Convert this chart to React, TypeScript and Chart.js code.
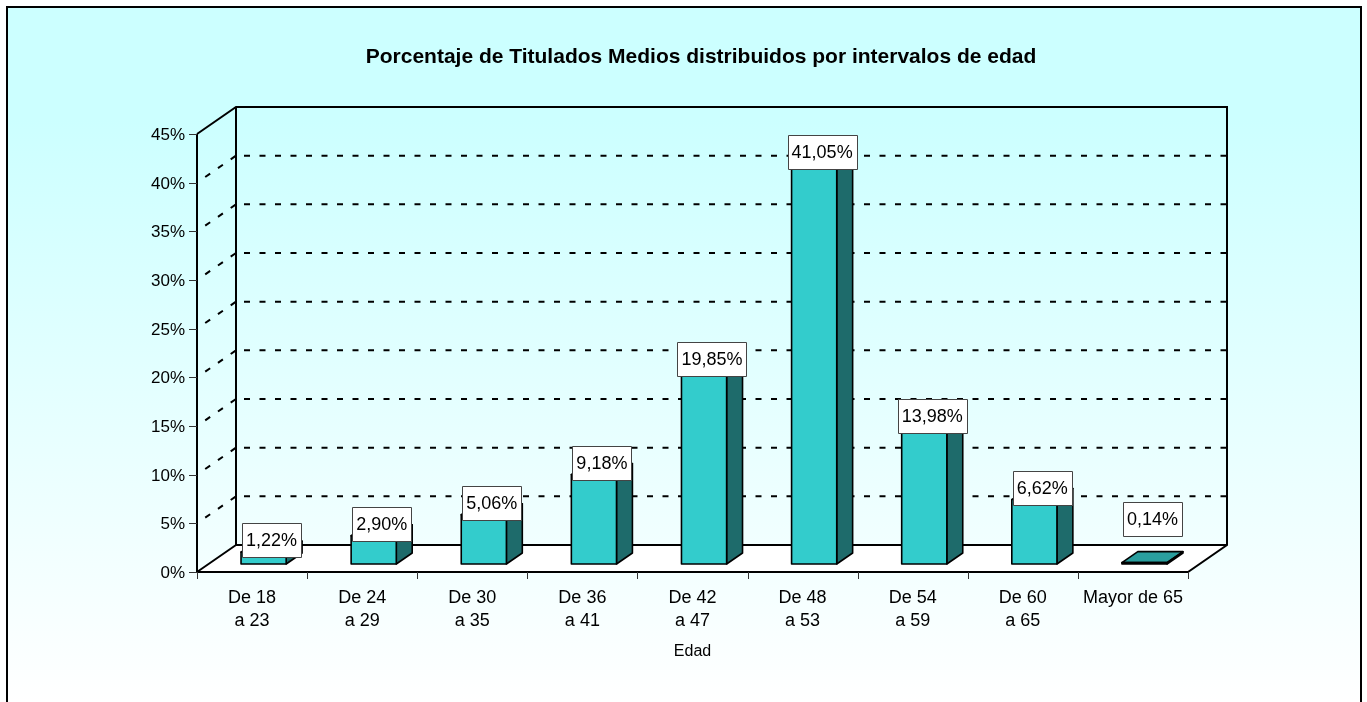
import React, { useEffect, useRef } from 'react';
import { Chart, registerables } from 'chart.js';

Chart.register(...registerables);

const chartTitle = 'Porcentaje de Titulados Medios distribuidos por intervalos de edad';
const xAxisTitle = 'Edad';
const categories: string[][] = [
  ['De 18', 'a 23'],
  ['De 24', 'a 29'],
  ['De 30', 'a 35'],
  ['De 36', 'a 41'],
  ['De 42', 'a 47'],
  ['De 48', 'a 53'],
  ['De 54', 'a 59'],
  ['De 60', 'a 65'],
  ['Mayor de 65'],
];
const values: number[] = [1.22, 2.9, 5.06, 9.18, 19.85, 41.05, 13.98, 6.62, 0.14];
const yTicks: number[] = [0, 5, 10, 15, 20, 25, 30, 35, 40, 45];

const FONT = '"Liberation Sans", Arial, Helvetica, sans-serif';
const DEPTH_X = 39;
const DEPTH_Y = -27;
const BAR_FRONT = 0.296;
const BAR_BACK = 0.704;

const fmt = (v: number) => v.toFixed(2).replace('.', ',') + '%';

const excel3d = {
  id: 'excel3d',
  beforeDraw(chart: any) {
    const ctx = chart.ctx as CanvasRenderingContext2D;
    const xs = chart.scales.x;
    const ys = chart.scales.y;
    const H = chart.height;
    ctx.save();
    // background
    const g = ctx.createLinearGradient(0, 0, 0, H);
    g.addColorStop(0, '#CCFFFF');
    g.addColorStop(0.17, '#CCFFFF');
    g.addColorStop(1, '#FFFFFF');
    ctx.fillStyle = g;
    ctx.fillRect(7, 7, 1354, H);
    ctx.strokeStyle = '#000';
    ctx.lineWidth = 2;
    ctx.beginPath();
    ctx.moveTo(7, H + 5);
    ctx.lineTo(7, 7);
    ctx.lineTo(1361, 7);
    ctx.lineTo(1361, H + 5);
    ctx.stroke();

    // title
    ctx.fillStyle = '#000';
    ctx.font = `bold 21px ${FONT}`;
    ctx.textAlign = 'center';
    ctx.textBaseline = 'middle';
    ctx.fillText(chartTitle, 701, 57);

    const x0 = xs.left;
    const x1 = xs.right;
    const y0 = ys.getPixelForValue(0);
    const yTop = ys.getPixelForValue(yTicks[yTicks.length - 1]);

    // floor
    ctx.fillStyle = '#FFFFFF';
    ctx.beginPath();
    ctx.moveTo(x0, y0);
    ctx.lineTo(x1, y0);
    ctx.lineTo(x1 + DEPTH_X, y0 + DEPTH_Y);
    ctx.lineTo(x0 + DEPTH_X, y0 + DEPTH_Y);
    ctx.closePath();
    ctx.fill();

    // gridlines on back wall and side wall
    ctx.strokeStyle = '#000';
    ctx.lineWidth = 2;
    ctx.setLineDash([6, 9.5]);
    for (const v of yTicks) {
      if (v === 0) continue;
      const y = ys.getPixelForValue(v);
      ctx.lineDashOffset = -8;
      ctx.beginPath();
      ctx.moveTo(x0 + DEPTH_X, y + DEPTH_Y);
      ctx.lineTo(x1 + DEPTH_X, y + DEPTH_Y);
      ctx.stroke();
      if (v === yTicks[yTicks.length - 1]) continue;
      ctx.lineDashOffset = -10;
      ctx.beginPath();
      ctx.moveTo(x0, y);
      ctx.lineTo(x0 + DEPTH_X, y + DEPTH_Y);
      ctx.stroke();
    }
    ctx.setLineDash([]);

    // frame lines
    ctx.lineWidth = 2;
    ctx.beginPath();
    ctx.moveTo(x0, yTop);
    ctx.lineTo(x0, y0);
    ctx.lineTo(x1, y0);
    ctx.lineTo(x1 + DEPTH_X, y0 + DEPTH_Y);
    ctx.lineTo(x1 + DEPTH_X, yTop + DEPTH_Y);
    ctx.lineTo(x0 + DEPTH_X, yTop + DEPTH_Y);
    ctx.lineTo(x0, yTop);
    ctx.moveTo(x0 + DEPTH_X, yTop + DEPTH_Y);
    ctx.lineTo(x0 + DEPTH_X, y0 + DEPTH_Y);
    ctx.lineTo(x1 + DEPTH_X, y0 + DEPTH_Y);
    ctx.moveTo(x0, y0);
    ctx.lineTo(x0 + DEPTH_X, y0 + DEPTH_Y);
    ctx.stroke();

    // y ticks and labels
    ctx.lineWidth = 1;
    ctx.strokeStyle = '#333';
    ctx.fillStyle = '#000';
    ctx.font = `17px ${FONT}`;
    ctx.textAlign = 'right';
    ctx.textBaseline = 'middle';
    for (const v of yTicks) {
      const y = Math.round(ys.getPixelForValue(v)) + 0.5;
      ctx.beginPath();
      ctx.moveTo(x0 - 8, y);
      ctx.lineTo(x0, y);
      ctx.stroke();
      ctx.fillText(v + '%', x0 - 12, y + 1);
    }

    // x ticks and labels
    const n = categories.length;
    const step = (x1 - x0) / n;
    for (let i = 0; i <= n; i++) {
      const x = Math.round(x0 + step * i) + 0.5;
      ctx.beginPath();
      ctx.moveTo(x, y0);
      ctx.lineTo(x, y0 + 7);
      ctx.stroke();
    }
    ctx.textAlign = 'center';
    ctx.font = `18px ${FONT}`;
    categories.forEach((lines, i) => {
      const cx = xs.getPixelForValue(i);
      lines.forEach((t, j) => ctx.fillText(t, cx, y0 + 26 + j * 23));
    });
    ctx.font = `16px ${FONT}`;
    ctx.fillText(xAxisTitle, (x0 + x1) / 2, y0 + 80);
    ctx.restore();
  },
  afterDatasetsDraw(chart: any) {
    const ctx = chart.ctx as CanvasRenderingContext2D;
    const meta = chart.getDatasetMeta(0);
    const fx = DEPTH_X * BAR_FRONT;
    const fy = DEPTH_Y * BAR_FRONT;
    const sx = DEPTH_X * (BAR_BACK - BAR_FRONT);
    const sy = DEPTH_Y * (BAR_BACK - BAR_FRONT);
    ctx.save();
    ctx.lineJoin = 'round';
    ctx.strokeStyle = '#000';
    ctx.lineWidth = 1.6;
    const boxes: any[] = [];
    meta.data.forEach((el: any, i: number) => {
      const p = el.getProps(['x', 'y', 'base', 'width'], true);
      const l = p.x - p.width / 2 + fx;
      const r = l + p.width;
      const t = p.y + fy;
      const b = p.base + fy;
      ctx.strokeStyle = '#000';
      ctx.lineWidth = 1.6;
      // top face
      ctx.fillStyle = '#2A9E9E';
      ctx.beginPath();
      ctx.moveTo(l, t);
      ctx.lineTo(r, t);
      ctx.lineTo(r + sx, t + sy);
      ctx.lineTo(l + sx, t + sy);
      ctx.closePath();
      ctx.fill();
      ctx.stroke();
      // side face
      ctx.fillStyle = '#1E6B6B';
      ctx.beginPath();
      ctx.moveTo(r, t);
      ctx.lineTo(r + sx, t + sy);
      ctx.lineTo(r + sx, b + sy);
      ctx.lineTo(r, b);
      ctx.closePath();
      ctx.fill();
      ctx.stroke();
      // front face
      ctx.fillStyle = '#33CCCC';
      ctx.beginPath();
      ctx.rect(l, t, p.width, b - t);
      ctx.fill();
      ctx.stroke();
      const flat = b - t < 4;
      boxes.push({ cx: (l + r + sx) / 2, cy: flat ? t - 44 : t - 12, text: fmt(values[i]) });
    });
    ctx.font = `18px ${FONT}`;
    ctx.textAlign = 'center';
    ctx.textBaseline = 'middle';
    for (const bx of boxes) {
      const w = Math.round(ctx.measureText(bx.text).width + 8);
      const h = 34;
      const lx = Math.round(bx.cx - w / 2) + 0.5;
      const ty = Math.round(bx.cy - h / 2) + 0.5;
      ctx.fillStyle = '#FFFFFF';
      ctx.fillRect(lx, ty, w, h);
      ctx.strokeStyle = '#444';
      ctx.lineWidth = 1;
      ctx.strokeRect(lx, ty, w, h);
      ctx.fillStyle = '#000';
      ctx.fillText(bx.text, bx.cx, bx.cy + 1);
    }
    ctx.restore();
  },
};

export default function App() {
  const ref = useRef<HTMLCanvasElement | null>(null);
  useEffect(() => {
    if (!ref.current) return;
    const chart = new Chart(ref.current, {
      type: 'bar',
      data: {
        labels: categories,
        datasets: [
          {
            label: 'Porcentaje',
            data: values,
            backgroundColor: 'rgba(0,0,0,0)',
            borderWidth: 0,
            barPercentage: 0.41,
            categoryPercentage: 1,
          },
        ],
      },
      options: {
        animation: false,
        responsive: false,
        devicePixelRatio: 1,
        layout: { padding: { left: 197, right: 179, top: 134, bottom: 130 } },
        scales: {
          x: { display: false, offset: true },
          y: { display: false, min: 0, max: 45 },
        },
        plugins: { legend: { display: false }, tooltip: { enabled: false }, title: { display: false } },
        events: [],
      },
      plugins: [excel3d],
    });
    return () => chart.destroy();
  }, []);
  return (
    <div style={{ position: 'fixed', left: 0, top: 0, width: 1367, height: 702 }}>
      <canvas ref={ref} width={1367} height={702} style={{ display: 'block' }} />
    </div>
  );
}
